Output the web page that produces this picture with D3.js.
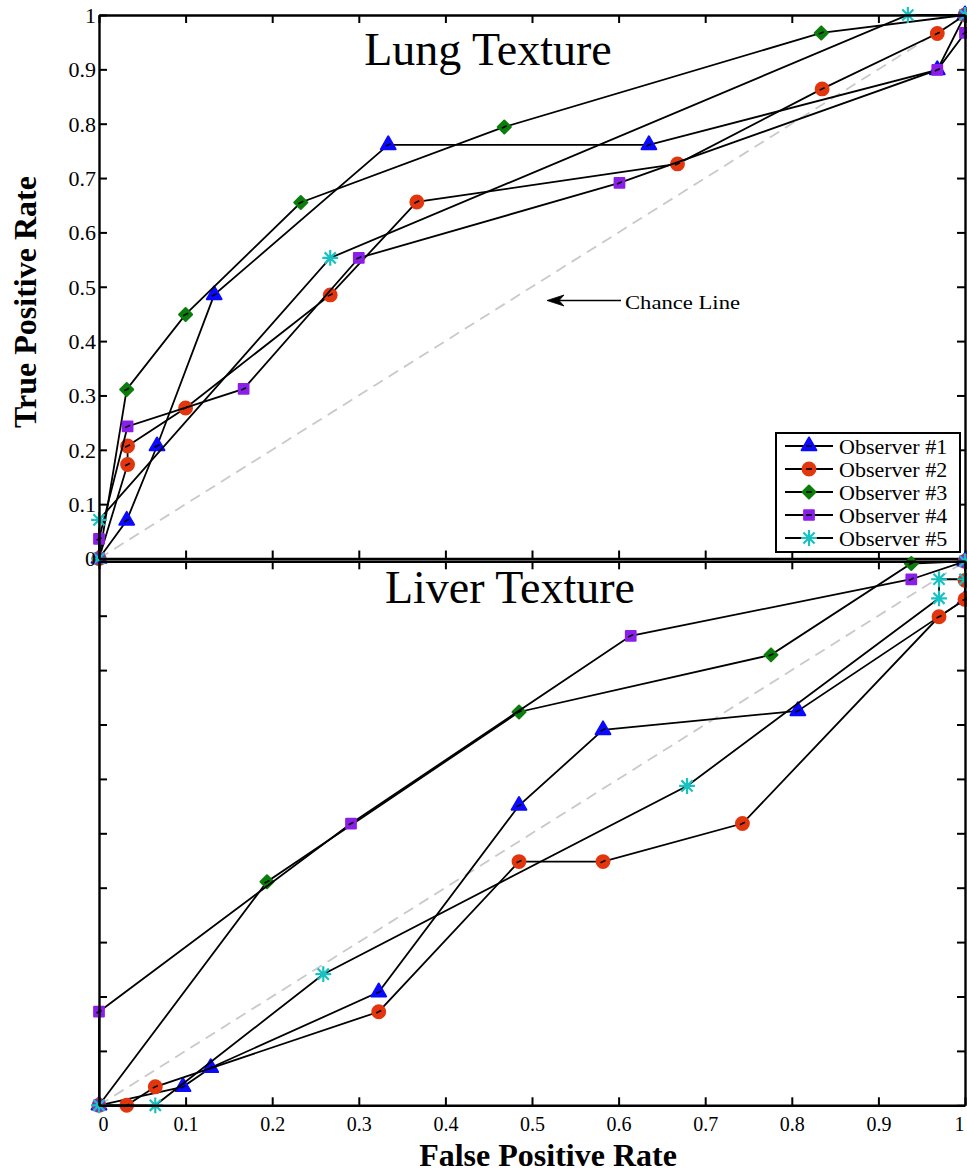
<!DOCTYPE html>
<html>
<head>
<meta charset="utf-8">
<script src="https://cdn.jsdelivr.net/npm/d3@7"></script>
<style>
  body { margin: 0; background: #fff; }
  svg text { font-family: "Liberation Serif", "Times New Roman", serif; }
</style>
</head>
<body>
<svg id="roc-svg" width="967" height="1176"></svg>
<script>
// ---- data ----
var observers = ['Observer #1', 'Observer #2', 'Observer #3', 'Observer #4', 'Observer #5'];
var tickValues = [0, 0.1, 0.2, 0.3, 0.4, 0.5, 0.6, 0.7, 0.8, 0.9, 1];
var tickLabels = ['0', '0.1', '0.2', '0.3', '0.4', '0.5', '0.6', '0.7', '0.8', '0.9', '1'];

// lung texture (FPR / TPR)
var lungObs1X = [0, 0.032, 0.067, 0.133, 0.334, 0.635, 0.968, 1];
var lungObs1Y = [0, 0.070, 0.207, 0.485, 0.761, 0.761, 0.899, 1];
var lungObs2X = [0, 0.033, 0.033, 0.100, 0.267, 0.367, 0.668, 0.835, 0.968, 1];
var lungObs2Y = [0, 0.173, 0.207, 0.277, 0.485, 0.656, 0.726, 0.864, 0.966, 1];
var lungObs3X = [0, 0.032, 0.100, 0.233, 0.468, 0.834, 1];
var lungObs3Y = [0, 0.311, 0.449, 0.655, 0.794, 0.967, 1];
var lungObs4X = [0, 0, 0.033, 0.167, 0.300, 0.601, 0.968, 1, 1];
var lungObs4Y = [0, 0.036, 0.243, 0.312, 0.553, 0.691, 0.899, 0.967, 1];
var lungObs5X = [0, 0, 0.267, 0.934, 1];
var lungObs5Y = [0, 0.071, 0.553, 1.0, 1];

// liver texture
var liverObs1X = [0, 0.097, 0.129, 0.323, 0.485, 0.582, 0.807, 1, 1];
var liverObs1Y = [0, 0.034, 0.069, 0.208, 0.551, 0.690, 0.725, 0.930, 1];
var liverObs2X = [0, 0.032, 0.065, 0.323, 0.485, 0.582, 0.743, 0.970, 1, 1, 1];
var liverObs2Y = [0, 0, 0.034, 0.172, 0.448, 0.448, 0.518, 0.898, 0.930, 0.965, 1];
var liverObs3X = [0, 0.194, 0.485, 0.776, 0.938, 1];
var liverObs3Y = [0, 0.411, 0.723, 0.828, 0.996, 1];
var liverObs4X = [0, 0, 0.291, 0.614, 0.938, 1];
var liverObs4Y = [0, 0.172, 0.518, 0.863, 0.967, 1];
var liverObs5X = [0, 0.065, 0.259, 0.679, 0.970, 0.970, 1, 1];
var liverObs5Y = [0, 0, 0.241, 0.587, 0.932, 0.967, 0.967, 1];

var colors = ['#0a0aff', '#e2360f', '#0b7d0b', '#8a1fe8', '#19c2c2'];

// 8-armed MATLAB style asterisk
var symbolStar = {
  draw: function(ctx, size) {
    var r = Math.sqrt(size) / 2;
    var d = r * Math.SQRT1_2;
    ctx.moveTo(0, -r); ctx.lineTo(0, r);
    ctx.moveTo(-r, 0); ctx.lineTo(r, 0);
    ctx.moveTo(-d, -d); ctx.lineTo(d, d);
    ctx.moveTo(-d, d); ctx.lineTo(d, -d);
  }
};
var markers = [
  {type: d3.symbolTriangle, size: 95, rotate: 0, fill: true},
  {type: d3.symbolCircle, size: 130, rotate: 0, fill: true},
  {type: d3.symbolSquare, size: 85, rotate: 45, fill: true},
  {type: d3.symbolSquare, size: 95, rotate: 0, fill: true},
  {type: symbolStar, size: 250, rotate: 0, fill: false}
];

var svg = d3.select('#roc-svg');
var x = d3.scaleLinear().domain([0, 1]).range([99, 965]);

function drawMarker(g, i, px, py, dash) {
  var m = markers[i];
  var p = g.append('path')
    .attr('d', d3.symbol().type(m.type).size(m.size)())
    .attr('transform', 'translate(' + px + ',' + py + ') rotate(' + m.rotate + ')');
  if (m.fill) {
    p.attr('fill', colors[i]).attr('stroke', colors[i]).attr('stroke-width', 2).attr('stroke-linejoin', 'round');
  } else {
    p.attr('fill', 'none').attr('stroke', colors[i]).attr('stroke-width', 2.2);
  }
  if (dash) {
    g.append('line')
      .attr('x1', px - 2.5).attr('y1', py + 1.2)
      .attr('x2', px + 2.5).attr('y2', py - 1.2)
      .attr('stroke', '#000').attr('stroke-width', 1.6);
  }
}

function styleAxis(sel) {
  sel.attr('font-family', null);
  sel.select('.domain').attr('stroke', '#000').attr('stroke-width', 2.4);
  sel.selectAll('.tick line').attr('stroke', '#000').attr('stroke-width', 2);
  sel.selectAll('.tick text').attr('fill', '#000');
}

function panel(top, bottom, series, title, titleX, titleY, showY, showX) {
  var y = d3.scaleLinear().domain([0, 1]).range([bottom, top]);
  var g = svg.append('g');

  // chance line
  g.append('line')
    .attr('x1', x(0)).attr('y1', y(0)).attr('x2', x(1)).attr('y2', y(1))
    .attr('stroke', '#c9c9c9').attr('stroke-width', 1.8)
    .attr('stroke-dasharray', '11,7');

  var line = d3.line().x(function(d) { return x(d[0]); }).y(function(d) { return y(d[1]); });
  series.forEach(function(s, i) {
    var pts = d3.zip(s[0], s[1]);
    g.append('path').datum(pts)
      .attr('d', line)
      .attr('fill', 'none').attr('stroke', '#000').attr('stroke-width', 1.8);
    pts.forEach(function(d) { drawMarker(g, i, x(d[0]), y(d[1]), i < 4); });
  });

  // box with inward ticks on every side
  var tl = 8;
  g.append('g').attr('transform', 'translate(0,' + bottom + ')')
    .call(d3.axisBottom(x).tickValues(tickValues).tickSizeInner(-tl).tickSizeOuter(0)
      .tickFormat(showX ? function(d, k) { return tickLabels[k]; } : ''))
    .call(styleAxis);
  g.append('g').attr('transform', 'translate(0,' + top + ')')
    .call(d3.axisTop(x).tickValues(tickValues).tickSizeInner(-tl).tickSizeOuter(0).tickFormat(''))
    .call(styleAxis);
  g.append('g').attr('transform', 'translate(' + x(0) + ',0)')
    .call(d3.axisLeft(y).tickValues(tickValues).tickSizeInner(-tl).tickSizeOuter(0)
      .tickFormat(showY ? function(d, k) { return tickLabels[k]; } : ''))
    .call(styleAxis);
  g.append('g').attr('transform', 'translate(' + x(1) + ',0)')
    .call(d3.axisRight(y).tickValues(tickValues).tickSizeInner(-tl).tickSizeOuter(0).tickFormat(''))
    .call(styleAxis);

  g.append('text')
    .attr('x', titleX).attr('y', titleY)
    .attr('text-anchor', 'middle')
    .attr('font-size', 46)
    .text(title);
  return {g: g, y: y};
}

var lung = panel(15, 558.5,
  [[lungObs1X, lungObs1Y], [lungObs2X, lungObs2Y], [lungObs3X, lungObs3Y], [lungObs4X, lungObs4Y], [lungObs5X, lungObs5Y]],
  'Lung Texture', 488, 65, true, false);

var liver = panel(561.3, 1105.3,
  [[liverObs1X, liverObs1Y], [liverObs2X, liverObs2Y], [liverObs3X, liverObs3Y], [liverObs4X, liverObs4Y], [liverObs5X, liverObs5Y]],
  'Liver Texture', 510, 603, false, true);

// tick label sizing
lung.g.selectAll('.tick text').filter(function() { return this.textContent !== ''; })
  .attr('font-size', 22).attr('x', -3).attr('dy', '0.34em');
liver.g.selectAll('.tick text').filter(function() { return this.textContent !== ''; })
  .attr('font-size', 20).attr('y', 12).attr('dy', '0.71em');
liver.g.selectAll('.tick text').filter(function() { return this.textContent === '1'; })
  .attr('x', -6);
liver.g.selectAll('.tick text').filter(function() { return this.textContent === '0'; })
  .attr('x', 4);

// chance line annotation (arrow pointing left)
svg.append('line')
  .attr('x1', 621).attr('y1', 300.5).attr('x2', 556).attr('y2', 300.5)
  .attr('stroke', '#000').attr('stroke-width', 1.6);
svg.append('path')
  .attr('d', 'M547,300.5 L564,295 L559,300.5 L564,306 Z')
  .attr('fill', '#000').attr('stroke', '#000').attr('stroke-width', 0.8);
svg.append('text')
  .attr('x', 625).attr('y', 309)
  .attr('font-size', 19)
  .attr('textLength', 115).attr('lengthAdjust', 'spacingAndGlyphs')
  .text('Chance Line');

// legend
var legend = svg.append('g');
legend.append('rect')
  .attr('x', 776).attr('y', 433).attr('width', 184).attr('height', 119)
  .attr('fill', '#fff').attr('stroke', '#000').attr('stroke-width', 2);
observers.forEach(function(name, i) {
  var cy = 446 + i * 23;
  legend.append('line')
    .attr('x1', 785).attr('x2', 833).attr('y1', cy).attr('y2', cy)
    .attr('stroke', '#000').attr('stroke-width', 1.8);
  drawMarker(legend, i, 809, cy, false);
  if (i < 4) {
    legend.append('line').attr('x1', 806).attr('x2', 812).attr('y1', cy).attr('y2', cy)
      .attr('stroke', '#000').attr('stroke-width', 1.6);
  }
  legend.append('text')
    .attr('x', 839).attr('y', cy + 7.5)
    .attr('font-size', 22)
    .text(name);
});

// axis titles
svg.append('text')
  .attr('transform', 'translate(36,302) rotate(-90)')
  .attr('text-anchor', 'middle')
  .attr('font-size', 32).attr('font-weight', 'bold')
  .text('True Positive Rate');
svg.append('text')
  .attr('x', 548).attr('y', 1166)
  .attr('text-anchor', 'middle')
  .attr('font-size', 32).attr('font-weight', 'bold')
  .text('False Positive Rate');
</script>
</body>
</html>
